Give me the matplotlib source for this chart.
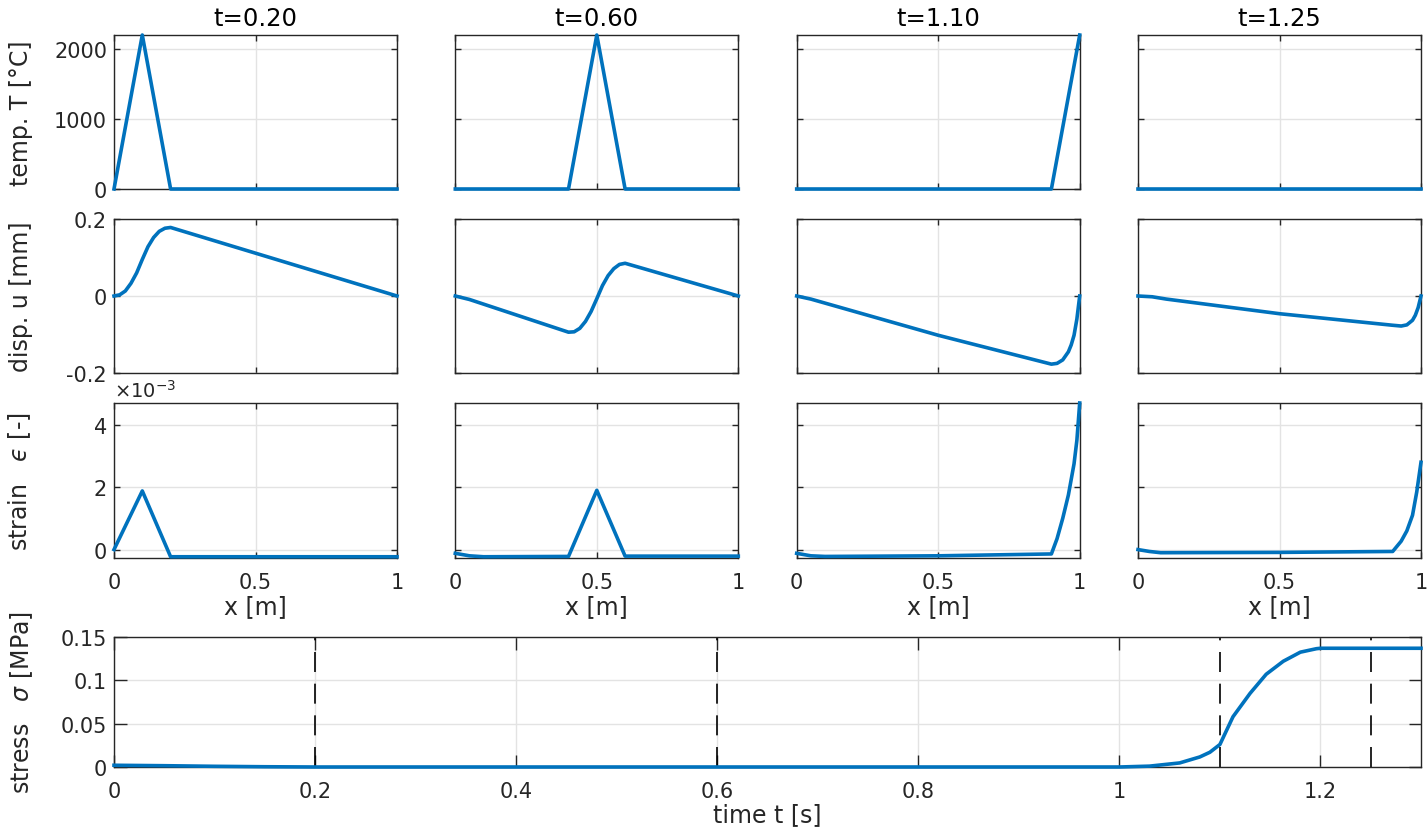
import matplotlib.pyplot as plt

plt.rcParams['font.family'] = ['DejaVu Sans']
plt.rcParams['axes.unicode_minus'] = False
plt.rcParams['mathtext.fontset'] = 'dejavusans'

# snapshot times
snap_titles = ['t=0.20', 't=0.60', 't=1.10', 't=1.25']
snap_times = [0.20, 0.60, 1.10, 1.25]

# temperature T [°C] along the bar
T_x_a = [0, 0.1, 0.2, 1.0]
T_a = [0, 2200, 0, 0]
T_x_b = [0, 0.4, 0.5, 0.6, 1.0]
T_b = [0, 0, 2200, 0, 0]
T_x_c = [0, 0.9, 1.0]
T_c = [0, 0, 2200]
T_x_d = [0, 1.0]
T_d = [0, 0]

# displacement u [mm]
u_x_a = [0, 0.02, 0.04, 0.06, 0.08, 0.10, 0.12, 0.14, 0.16, 0.18, 0.20, 1.0]
u_a = [0, 0.003, 0.013, 0.033, 0.060, 0.095, 0.128, 0.152, 0.168, 0.176, 0.178, 0.0]
u_x_b = [0, 0.05, 0.40, 0.42, 0.44, 0.46, 0.48, 0.50, 0.52, 0.54, 0.56, 0.58, 0.60, 1.0]
u_b = [0, -0.009, -0.094, -0.093, -0.084, -0.066, -0.040, -0.007, 0.027, 0.053, 0.071, 0.082, 0.085, 0.0]
u_x_c = [0, 0.05, 0.5, 0.9, 0.92, 0.94, 0.96, 0.97, 0.98, 0.99, 1.0]
u_c = [0, -0.008, -0.102, -0.177, -0.175, -0.166, -0.145, -0.127, -0.102, -0.060, 0.0]
u_x_d = [0, 0.05, 0.1, 0.5, 0.9, 0.93, 0.95, 0.97, 0.98, 0.99, 1.0]
u_d = [0, -0.002, -0.008, -0.046, -0.076, -0.078, -0.075, -0.063, -0.050, -0.030, 0.0]

# strain [x1e-3]
e_x_a = [0, 0.1, 0.2, 1.0]
e_a = [0, 1.88, -0.23, -0.23]
e_x_b = [0, 0.05, 0.1, 0.4, 0.5, 0.6, 1.0]
e_b = [-0.12, -0.2, -0.23, -0.22, 1.90, -0.21, -0.21]
e_x_c = [0, 0.05, 0.1, 0.5, 0.9, 0.92, 0.94, 0.96, 0.98, 0.99, 1.0]
e_c = [-0.12, -0.2, -0.22, -0.2, -0.14, 0.35, 1.0, 1.75, 2.75, 3.5, 4.7]
e_x_d = [0, 0.04, 0.08, 0.5, 0.9, 0.93, 0.95, 0.97, 0.985, 1.0]
e_d = [0, -0.06, -0.1, -0.09, -0.06, 0.27, 0.6, 1.1, 1.85, 2.8]

# stress sigma [MPa] over time
s_t = [0, 0.05, 0.1, 0.15, 0.2, 1.0, 1.03, 1.06, 1.08, 1.09, 1.1, 1.113, 1.13,
       1.146, 1.163, 1.18, 1.196, 1.2, 1.3]
s_val = [0.002, 0.0015, 0.0008, 0.0003, 0.0, 0.0, 0.001, 0.0047, 0.0116, 0.017,
         0.026, 0.058, 0.085, 0.107, 0.122, 0.1325, 0.1365, 0.137, 0.137]

temp_x = [T_x_a, T_x_b, T_x_c, T_x_d]
temp_y = [T_a, T_b, T_c, T_d]
disp_x = [u_x_a, u_x_b, u_x_c, u_x_d]
disp_y = [u_a, u_b, u_c, u_d]
strain_x = [e_x_a, e_x_b, e_x_c, e_x_d]
strain_y = [e_a, e_b, e_c, e_d]

BLUE = '#0072BD'
DARK = '#262626'
GRID = '#e3e3e3'
W, H = 1427, 837

fig = plt.figure(figsize=(W / 100, H / 100), dpi=100)


def box(left, top, width, height):
    return [left / W, 1 - (top + height) / H, width / W, height / H]


def style(ax, ticklen):
    ax.grid(True, color=GRID, linewidth=1.0)
    ax.set_axisbelow(True)
    for sp in ax.spines.values():
        sp.set_color(DARK)
        sp.set_linewidth(1.0)
    ax.tick_params(direction='in', top=True, right=True, length=ticklen, width=1.0,
                   colors=DARK, labelsize=15, labelcolor=DARK)
    ax.tick_params(axis='x', pad=10)
    ax.tick_params(axis='y', pad=5)


col_left = [114, 455.3, 796.7, 1138]
row_top = [36, 220, 404]
aw, ah = 283, 154

for j in range(4):
    # temperature
    ax = fig.add_axes(box(col_left[j], row_top[0], aw, ah))
    ax.plot(temp_x[j], temp_y[j], color=BLUE, lw=2.6, clip_on=False, zorder=3)
    ax.set_xlim(0, 1)
    ax.set_ylim(0, 2200)
    ax.set_xticks([0, 0.5, 1])
    ax.set_yticks([0, 1000, 2000])
    style(ax, 4)
    ax.tick_params(labelbottom=False, labelleft=(j == 0))
    ax.set_title(snap_titles[j], fontsize=17.5, color='black', pad=7)
    if j == 0:
        ax.set_ylabel('temp. T [°C]', fontsize=17, color=DARK)
        ax.yaxis.set_label_coords(-0.286, 0.5)

    # displacement
    ax = fig.add_axes(box(col_left[j], row_top[1], aw, ah))
    ax.plot(disp_x[j], disp_y[j], color=BLUE, lw=2.6, clip_on=False, zorder=3)
    ax.set_xlim(0, 1)
    ax.set_ylim(-0.2, 0.2)
    ax.set_xticks([0, 0.5, 1])
    ax.set_yticks([-0.2, 0, 0.2])
    ax.set_yticklabels(['-0.2', '0', '0.2'])
    style(ax, 4)
    ax.tick_params(labelbottom=False, labelleft=(j == 0))
    if j == 0:
        ax.set_ylabel('disp. u [mm]', fontsize=17, color=DARK)
        ax.yaxis.set_label_coords(-0.286, 0.5)

    # strain
    ax = fig.add_axes(box(col_left[j], row_top[2], aw, ah + 1))
    ax.plot(strain_x[j], strain_y[j], color=BLUE, lw=2.6, clip_on=False, zorder=3)
    ax.set_xlim(0, 1)
    ax.set_ylim(-0.27, 4.7)
    ax.set_xticks([0, 0.5, 1])
    ax.set_xticklabels(['0', '0.5', '1'])
    ax.set_yticks([0, 2, 4])
    style(ax, 4)
    ax.tick_params(labelleft=(j == 0))
    ax.set_xlabel('x [m]', fontsize=17, color=DARK)
    ax.xaxis.set_label_coords(0.5, -0.235)
    if j == 0:
        ax.set_ylabel('strain   $\\mathit{\u03f5}$ [-]', fontsize=17, color=DARK)
        ax.yaxis.set_label_coords(-0.286, 0.5)
        ax.text(0.0, 1.015, '$\\times\\mathregular{10^{-3}}$', transform=ax.transAxes,
                fontsize=14, color=DARK, ha='left', va='bottom')

# stress over time
ax = fig.add_axes(box(114, 638, 1307, 130))
for ts in snap_times:
    ax.axvline(ts, color='black', lw=1.2, linestyle=(0, (12, 7)), zorder=2)
ax.plot(s_t, s_val, color=BLUE, lw=2.6, clip_on=False, zorder=3)
ax.set_xlim(0, 1.3)
ax.set_ylim(0, 0.15)
ax.set_xticks([0, 0.2, 0.4, 0.6, 0.8, 1.0, 1.2])
ax.set_xticklabels(['0', '0.2', '0.4', '0.6', '0.8', '1', '1.2'])
ax.set_yticks([0, 0.05, 0.1, 0.15])
ax.set_yticklabels(['0', '0.05', '0.1', '0.15'])
style(ax, 9)
ax.set_xlabel('time t [s]', fontsize=17, color=DARK)
ax.xaxis.set_label_coords(0.5, -0.27)
ax.set_ylabel('stress   $\\sigma$ [MPa]', fontsize=17, color=DARK)
ax.yaxis.set_label_coords(-0.0604, 0.5)

fig.savefig('out.png', dpi=100)
